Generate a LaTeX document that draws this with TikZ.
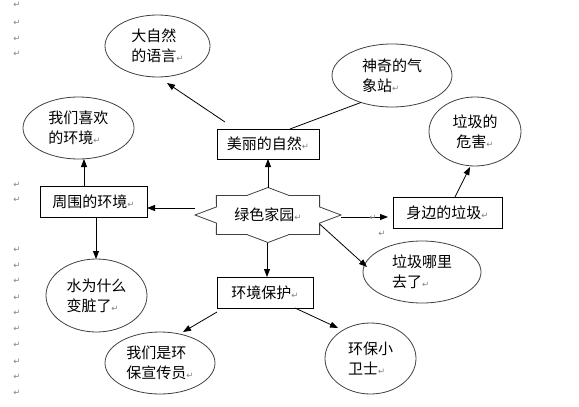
\documentclass[tikz,border=0pt]{standalone}
\usepackage{fontspec}
\newfontfamily\cjk{Noto Sans CJK SC}
\newfontfamily\djv{DejaVu Sans}
\usetikzlibrary{shapes.geometric,arrows.meta,calc}
\newcommand\parmk{{\djv\fontsize{8.5}{8.5}\selectfont\textcolor{black!50}{↵}}}
\tikzset{
 lbl/.style={font=\cjk\fontsize{15}{20}\selectfont, inner sep=0pt, outer sep=0pt},
 boxn/.style={lbl, draw=black, line width=0.8pt, rectangle},
 elln/.style={lbl, draw=black!75, line width=0.8pt, ellipse, align=left},
 arr/.style={line width=0.8pt, -{Triangle[length=8pt,width=6pt]}},
 ln/.style={line width=0.8pt},
 mk/.style={inner sep=0pt, outer sep=0pt}
}
\begin{document}
\begin{tikzpicture}[x=1pt,y=-1pt]
\useasboundingbox (0,0) rectangle (579,407);
% boxes
\node[boxn, minimum width=107pt, minimum height=31pt] (zw) at (93.5,201.5) {周围的环境\parmk};
\node[boxn, minimum width=102pt, minimum height=30pt] (ml) at (268,144) {美丽的自然\parmk};
\node[boxn, minimum width=109pt, minimum height=31pt] (sb) at (447.5,212.5) {身边的垃圾\parmk};
\node[boxn, minimum width=96pt, minimum height=31pt] (hb) at (265,292.5) {环境保护\parmk};
% ellipses
\node[elln, minimum width=105pt, minimum height=62pt] (dz) at (157.5,46) {大自然\\的语言\parmk};
\node[elln, minimum width=111pt, minimum height=62pt] (xh) at (78.5,128) {我们喜欢\\的环境\parmk};
\node[elln, minimum width=120pt, minimum height=63pt] (qx) at (392,75.5) {神奇的气\\象站\parmk};
\node[elln, align=center, minimum width=92pt, minimum height=69pt] (wh) at (475,131.5) {垃圾的\\危害\parmk};
\node[elln, minimum width=118pt, minimum height=62pt] (nl) at (422,272) {垃圾哪里\\去了\parmk};
\node[elln, minimum width=91pt, minimum height=71pt] (ws) at (370.5,358.5) {环保小\\卫士\parmk};
\node[elln, minimum width=110pt, minimum height=62pt] (xc) at (160,363) {我们是环\\保宣传员\parmk};
\node[elln, minimum width=101pt, minimum height=73pt] (sz) at (96.5,295.5) {水为什么\\变脏了\parmk};
% star
\node[lbl] (star) at (268,215) {绿色家园\parmk};
\draw[ln, draw=black!75, shift={(star.center)}]
 (0:73 and 27.5) -- (22.5:55.85 and 21.04) -- (45:73 and 27.5) -- (67.5:55.85 and 21.04)
 -- (90:73 and 27.5) -- (112.5:55.85 and 21.04) -- (135:73 and 27.5) -- (157.5:55.85 and 21.04)
 -- (180:73 and 27.5) -- (202.5:55.85 and 21.04) -- (225:73 and 27.5) -- (247.5:55.85 and 21.04)
 -- (270:73 and 27.5) -- (292.5:55.85 and 21.04) -- (315:73 and 27.5) -- (337.5:55.85 and 21.04) -- cycle;
% connector ends
\coordinate (stN) at ($(star.center)+(0,-27.5)$);
\coordinate (stS) at ($(star.center)+(-1,27.5)$);
\coordinate (stW) at ($(star.center)+(-73,-7)$);
\coordinate (stE) at ($(star.center)+(73,2)$);
\coordinate (stSE) at ($(star.center)+(51.6,9)$);
\coordinate (ml1) at ($(ml.north west)+(8,-7)$);
\coordinate (dz1) at ($(dz.south)+(9.5,6)$);
\coordinate (ml2) at ($(ml.north)+(22,0)$);
\coordinate (zwN) at ($(zw.north)+(-9.5,0)$);
\coordinate (zwS) at ($(zw.south)+(2.5,0)$);
\coordinate (hb1) at ($(hb.south west)+(0,4)$);
\coordinate (xc1) at ($(xc.north)+(23,0)$);
\coordinate (hb2) at ($(hb.south east)+(-18,0)$);
\coordinate (ws1) at ($(ws.center)+(-32.5,-30.5)$);
\coordinate (sb1) at ($(sb.west)+(-5,4.5)$);
\coordinate (nl1) at ($(nl.center)+(-55,-5)$);
\coordinate (sb2) at ($(sb.north)+(7.5,0)$);
\coordinate (wh1) at ($(wh.south)+(-5,1)$);
% connectors
\draw[arr] (stN) -- (ml.south);
\draw[arr] (ml1) -- (dz1);
\draw[ln] (ml2) -- (qx.221);
\draw[arr] (stW) -- (zw.east |- stW);
\draw[arr] (zwN) -- (zwN |- xh.south);
\draw[arr] (zwS) -- (zwS |- sz.north);
\draw[arr] (stS) -- (stS |- hb.north);
\draw[arr] (hb1) -- (xc1);
\draw[arr] (hb2) -- (ws1);
\draw[arr] (stE) -- (sb1);
\draw[arr] (stSE) -- (nl1);
\draw[arr] (sb2) -- (wh1);
% paragraph marks
\foreach \y in {5,23,39,54,185,200,250,266,281,298,313,329,345,362,377,393}
  \node[mk] (m\y) at (17,\y) {\parmk};
\node[mk] (ma) at (373,218) {\parmk};
\node[mk] (mb) at (382,234) {\parmk};
\end{tikzpicture}
\end{document}
